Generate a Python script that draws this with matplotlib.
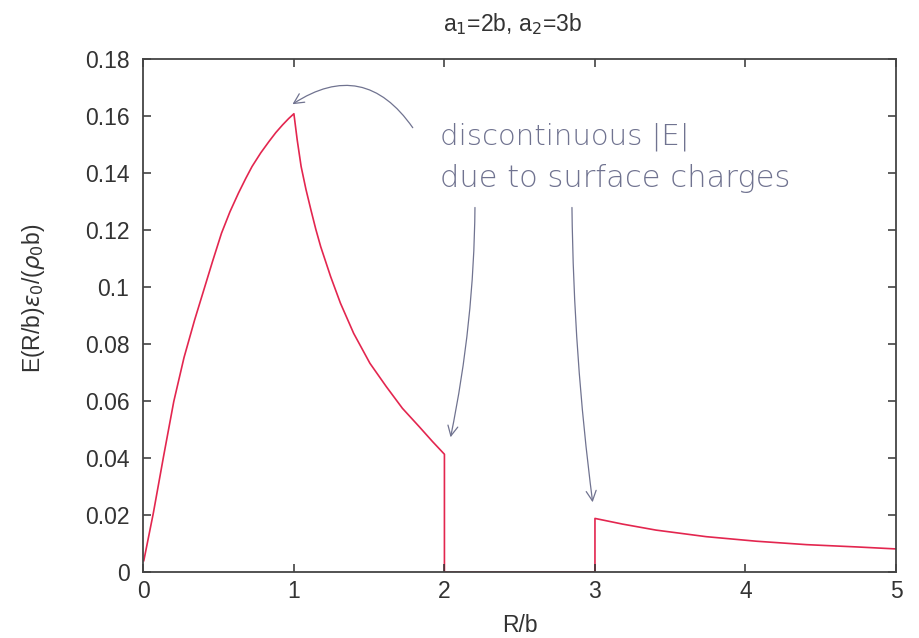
import matplotlib
matplotlib.use('agg')
import matplotlib.pyplot as plt

plt.rcParams['font.family'] = ['Liberation Sans', 'DejaVu Sans']

# field profile E(R/b) eps0/(rho0 b), piecewise: inner sphere, gap, outer shell
r_vals = [0.003, 0.066, 0.134, 0.202, 0.27, 0.34, 0.405, 0.46, 0.519, 0.575, 0.632, 0.68, 0.722,
          0.78, 0.835, 0.88, 0.925, 0.965, 1.0,
          1.022, 1.048, 1.08, 1.113, 1.145, 1.178, 1.244, 1.309, 1.397, 1.505, 1.614, 1.721, 1.832,
          1.92, 2.0,
          2.0, 3.0,
          3.0, 3.184, 3.406, 3.739, 4.073, 4.406, 4.739, 5.0]
e_vals = [0.004, 0.0206, 0.0405, 0.0598, 0.0752, 0.0883, 0.0995, 0.109, 0.1188, 0.1263, 0.1329, 0.138,
          0.1422, 0.147, 0.151, 0.1541, 0.1568, 0.159, 0.1607,
          0.1515, 0.1422, 0.1342, 0.127, 0.1203, 0.1141, 0.1036, 0.0943, 0.0837, 0.0732, 0.065, 0.0574,
          0.051, 0.0458, 0.0413,
          0.0, 0.0,
          0.0188, 0.0168, 0.0147, 0.0124, 0.0108, 0.0096, 0.0088, 0.0081]

x_ticks = [0, 1, 2, 3, 4, 5]
y_ticks = [0, 0.02, 0.04, 0.06, 0.08, 0.1, 0.12, 0.14, 0.16, 0.18]
y_labels = ['0', '0.02', '0.04', '0.06', '0.08', '0.1', '0.12', '0.14', '0.16', '0.18']

note_lines = ['discontinuous |E|', 'due to surface charges']

fig = plt.figure(figsize=(9.19, 6.38), dpi=100)
ax = fig.add_axes([0.156, 0.1034, 0.819, 0.8046])

ax.plot(r_vals, e_vals, color='#e3264f', lw=1.2, zorder=1)

ax.set_xlim(0, 5)
ax.set_ylim(0, 0.18)
ax.set_xticks(x_ticks)
ax.set_yticks(y_ticks)
ax.set_yticklabels(y_labels)
ax.tick_params(direction='in', length=6, width=1.1, top=True, right=True,
               labelsize=16.5, colors='#333333')
ax.tick_params(axis='x', pad=6)
ax.tick_params(axis='y', pad=10)
for sp in ax.spines.values():
    sp.set_color('#444444')
    sp.set_linewidth(1.3)
    sp.set_zorder(3)

ax.set_xlabel('R/b', fontsize=16.5, color='#333333')
ax.xaxis.set_label_coords(0.5, -0.082)
ax.set_ylabel(r'E(R/b)$\varepsilon_0$/($\rho_0$b)', fontsize=16.5, color='#333333')
ax.yaxis.set_label_coords(-0.128, 0.533)
ax.set_title(r'a$_1$=2b, a$_2$=3b', fontsize=16.5, color='#333333', x=0.491, pad=20)

# hand-written note with arrows pointing at the jumps
ink = '#707390'
ax.text(1.97, 0.1498, note_lines[0], fontsize=21, color=ink, family='DejaVu Sans',
        fontweight='light', va='baseline')
ax.text(1.97, 0.1351, note_lines[1], fontsize=22, color=ink, family='DejaVu Sans',
        fontweight='light', va='baseline')

arrow_kw = dict(arrowstyle='->', color=ink, lw=0.9, mutation_scale=18)
ax.annotate('', xy=(0.975, 0.1635), xytext=(1.80, 0.155),
            arrowprops=dict(connectionstyle='arc3,rad=0.5', **arrow_kw))
ax.annotate('', xy=(2.037, 0.0463), xytext=(2.203, 0.1288),
            arrowprops=dict(connectionstyle='arc3,rad=-0.05', **arrow_kw))
ax.annotate('', xy=(2.987, 0.0235), xytext=(2.847, 0.1288),
            arrowprops=dict(connectionstyle='arc3,rad=0.03', **arrow_kw))

fig.savefig('out.png', dpi=100)
